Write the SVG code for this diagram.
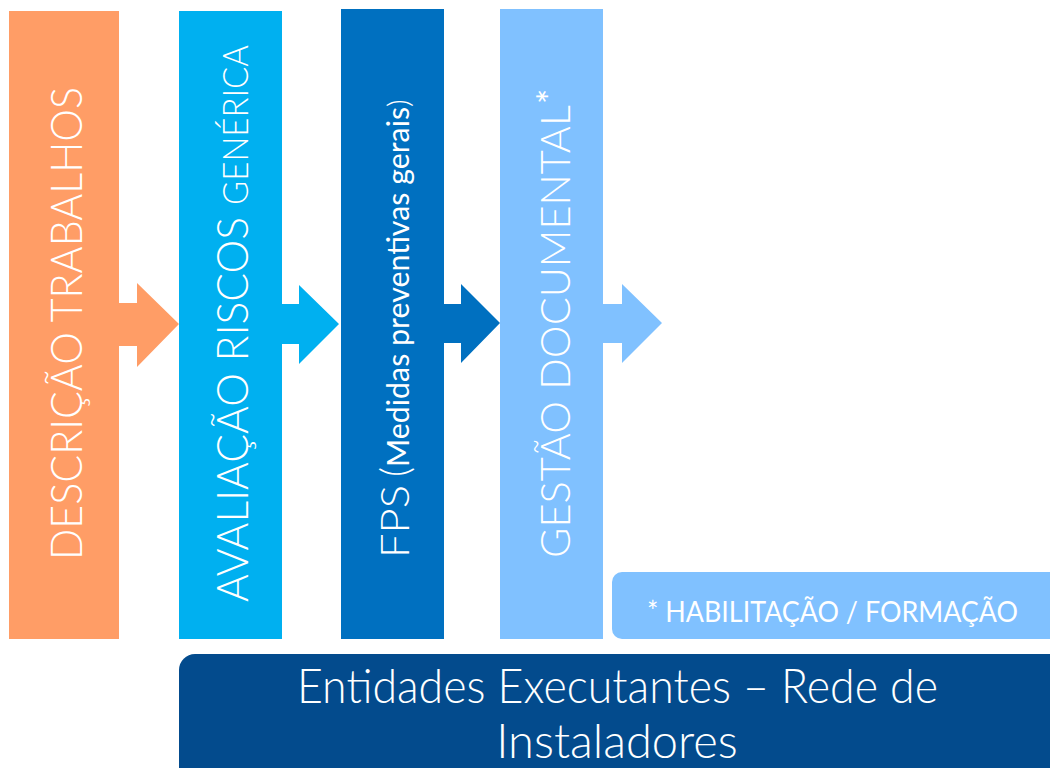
<svg xmlns="http://www.w3.org/2000/svg" width="1050" height="768" viewBox="0 0 1050 768">
<style>
.col{font-family:Lato,"Liberation Sans",sans-serif;font-weight:300;fill:#fff}
.lbl{font-family:Lato,"Liberation Sans",sans-serif;fill:#fff}
</style>
<rect width="1050" height="768" fill="#fff"/>
<g id="connectors">
<polygon points="118,303 137,303 137,283 179,324 137,367 137,346 118,346" fill="#FF9D66"/>
<polygon points="281,304 299,304 299,285 339,324 299,364 299,344 281,344" fill="#00B0F0"/>
<polygon points="443,304 461,304 461,284 500,323 461,363 461,343 443,343" fill="#0070C0"/>
<polygon points="602,304 622,304 622,284 662,323 622,363 622,343 602,343" fill="#80C1FF"/>
</g>
<g id="n1">
<rect x="9" y="11" width="110" height="628" fill="#FF9D66"/>
<text class="col" transform="translate(82,560) rotate(-90)" font-size="44" textLength="473" lengthAdjust="spacingAndGlyphs">DESCRIÇÃO TRABALHOS</text>
</g>
<g id="n2">
<rect x="179" y="11" width="103" height="628" fill="#00B0F0"/>
<text class="col" transform="translate(248,602) rotate(-90)" font-size="43"><tspan textLength="385" lengthAdjust="spacingAndGlyphs">AVALIAÇÃO RISCOS</tspan><tspan font-size="36" dx="12" textLength="160" lengthAdjust="spacingAndGlyphs">GENÉRICA</tspan></text>
</g>
<g id="n3">
<rect x="341" y="9" width="103" height="630" fill="#0070C0"/>
<text class="col" transform="translate(409,558) rotate(-90)" font-size="39"><tspan textLength="73" lengthAdjust="spacingAndGlyphs">FPS</tspan><tspan dx="8">(</tspan><tspan font-size="30" font-weight="400" textLength="360" lengthAdjust="spacingAndGlyphs">Medidas preventivas gerais</tspan><tspan font-size="30">)</tspan></text>
</g>
<g id="n4">
<rect x="500" y="9" width="103" height="630" fill="#80C1FF"/>
<text class="col" transform="translate(570,558) rotate(-90)" font-size="42"><tspan textLength="453" lengthAdjust="spacingAndGlyphs">GESTÃO DOCUMENTAL</tspan><tspan font-size="36" dx="1" dy="-6" font-weight="400">*</tspan></text>
</g>
<g id="n5">
<rect x="612" y="572" width="448" height="67" rx="10" fill="#80C1FF"/>
<text class="lbl" x="647" y="622" font-size="28" font-weight="400" textLength="371" lengthAdjust="spacingAndGlyphs">* HABILITAÇÃO / FORMAÇÃO</text>
</g>
<g id="n6">
<rect x="179" y="654" width="886" height="130" rx="16" fill="#034B8D"/>
<text class="lbl" x="297" y="703" font-size="47" font-weight="300" textLength="641" lengthAdjust="spacingAndGlyphs">Entidades Executantes – Rede de</text>
<text class="lbl" x="617" y="758" font-size="47" font-weight="300" text-anchor="middle">Instaladores</text>
</g>
</svg>
